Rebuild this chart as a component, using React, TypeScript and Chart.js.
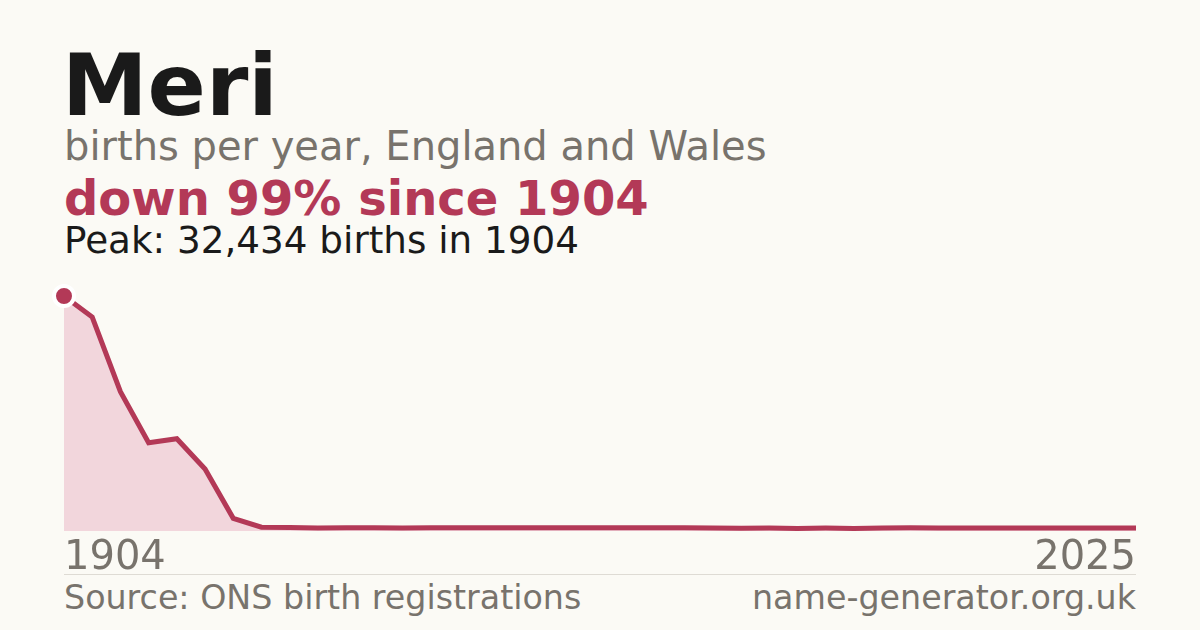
import { useEffect, useRef, JSX } from 'react';
import Chart from 'chart.js/auto';

// ONS years shown in the series (decades early on, yearly from 1996)
const years: string[] = [
    '1904', '1914', '1924', '1934', '1944', '1954', '1964', '1974', '1984',
    '1996', '1997', '1998', '1999', '2000', '2001', '2002', '2003', '2004', '2005',
    '2006', '2007', '2008', '2009', '2010', '2011', '2012', '2013', '2014', '2015',
    '2016', '2017', '2018', '2019', '2020', '2021', '2022', '2023', '2024', '2025',
];

const births: number[] = [
    32434, 29530, 19220, 12190, 12740, 8560, 1750, 520, 470,
    430, 450, 450, 420, 450, 450, 450, 450, 450, 450,
    450, 450, 450, 450, 430, 380, 400, 360, 400, 360,
    400, 440, 420, 410, 400, 400, 400, 400, 400, 400,
];

const xTickLabels: string[] = ['1904', '2025'];

const RED = '#b33957';
const FILL = '#f2d6dc';
const GREY = '#78736c';
const FONT = '"DejaVu Sans", sans-serif';

export default function App(): JSX.Element {
    const chartRef = useRef<HTMLCanvasElement | null>(null);
    const chartInstance = useRef<Chart | null>(null);

    useEffect(() => {
        if (chartInstance.current) {
            chartInstance.current.destroy();
        }
        if (!chartRef.current) return;
        const ctx = chartRef.current.getContext('2d');
        if (!ctx) return;

        chartInstance.current = new Chart(ctx, {
            type: 'line',
            data: {
                labels: years,
                datasets: [
                    {
                        data: births,
                        borderColor: RED,
                        borderWidth: 5,
                        backgroundColor: FILL,
                        fill: 'origin',
                        tension: 0,
                        clip: false,
                        pointRadius: births.map((_, i) => (i === 0 ? 10 : 0)),
                        pointHoverRadius: 0,
                        pointBackgroundColor: RED,
                        pointBorderColor: '#ffffff',
                        pointBorderWidth: 4,
                    },
                ],
            },
            options: {
                responsive: false,
                animation: false,
                layout: { autoPadding: false, padding: { left: 24, right: 24, top: 26, bottom: 9 } },
                plugins: {
                    legend: { display: false },
                    tooltip: { enabled: false },
                },
                scales: {
                    x: { type: 'category', display: false },
                    y: { min: 0, max: Math.max(...births), display: false },
                },
            },
        });

        return () => {
            if (chartInstance.current) {
                chartInstance.current.destroy();
                chartInstance.current = null;
            }
        };
    }, []);

    const text = (size: number, baseline: number, extra: React.CSSProperties = {}) => ({
        position: 'absolute' as const,
        fontSize: size,
        lineHeight: `${size}px`,
        top: baseline - 0.846 * size,
        whiteSpace: 'nowrap' as const,
        ...extra,
    });

    return (
        <div
            style={{
                position: 'absolute',
                left: 0,
                top: 0,
                width: 1200,
                height: 630,
                background: '#fbfaf5',
                fontFamily: FONT,
                overflow: 'hidden',
            }}
        >
            <div style={text(86, 115, { left: 62, fontWeight: 700, color: '#1a1a1a' })}>Meri</div>
            <div style={text(40, 160, { left: 64, color: GREY })}>births per year, England and Wales</div>
            <div style={text(48, 214.3, { left: 64, fontWeight: 700, color: RED })}>down 99% since 1904</div>
            <div style={text(37.3, 254, { left: 64, color: '#1a1a1a' })}>Peak: 32,434 births in 1904</div>

            <div style={{ position: 'absolute', left: 64, top: 530, width: 1072, height: 1, background: '#dedbd4' }} />
            <canvas
                ref={chartRef}
                width={1120}
                height={270}
                style={{ position: 'absolute', left: 40, top: 270 }}
            />

            <div style={text(40, 569.3, { left: 64, color: GREY })}>{xTickLabels[0]}</div>
            <div style={text(40, 569.3, { right: 64, color: GREY })}>{xTickLabels[1]}</div>

            <div style={{ position: 'absolute', left: 64, top: 574, width: 1072, height: 1, background: '#dedbd4' }} />
            <div style={text(33.3, 609.3, { left: 64, color: GREY })}>Source: ONS birth registrations</div>
            <div style={text(33.3, 609.3, { right: 64, color: GREY })}>name-generator.org.uk</div>
        </div>
    );
}
